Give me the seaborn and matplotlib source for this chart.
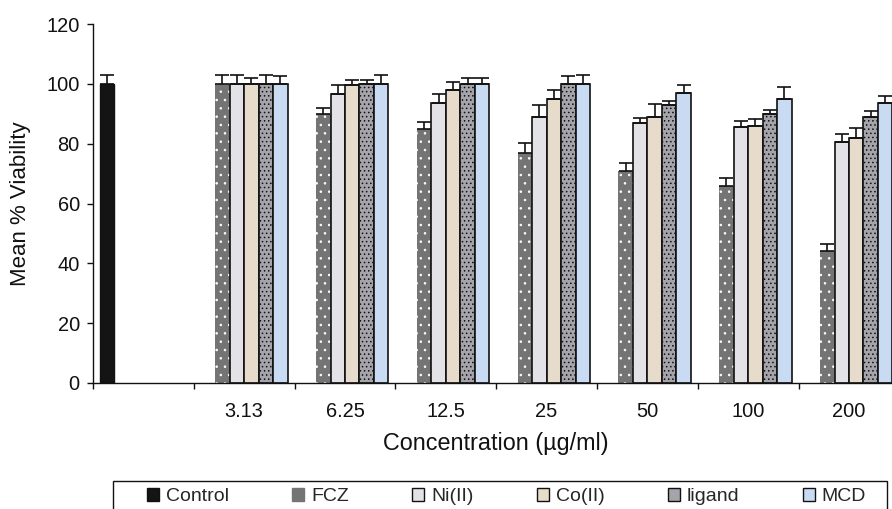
import numpy as np
import pandas as pd
import matplotlib
matplotlib.use("Agg")
import matplotlib.pyplot as plt
from matplotlib.patches import Rectangle, Patch
from matplotlib.ticker import FixedLocator
import seaborn as sns

# ---------------- data ----------------
categories = ["Control", "3.13", "6.25", "12.5", "25", "50", "100", "200"]
tick_labels = ["", "3.13", "6.25", "12.5", "25", "50", "100", "200"]
conc = ["3.13", "6.25", "12.5", "25", "50", "100", "200"]

series = ["Control", "FCZ", "Ni(II)", "Co(II)", "ligand", "MCD"]

control_val = [100]
control_err = [3]
fcz_val = [100, 90, 85, 77, 71, 66, 44]
fcz_err = [3, 2, 2.4, 3.3, 2.5, 2.6, 2.4]
ni_val = [100, 96.5, 93.5, 89, 87, 85.5, 80.5]
ni_err = [3, 3, 3, 3.9, 1.7, 2.2, 2.8]
co_val = [100, 99.5, 98, 95, 89, 86, 82]
co_err = [2, 1.7, 2.5, 3, 4.4, 2.3, 3.1]
ligand_val = [100, 100, 100, 100, 93, 90, 89]
ligand_err = [3, 1.3, 2, 2.5, 1.4, 1.3, 1.9]
mcd_val = [100, 100, 100, 100, 97, 95, 93.5]
mcd_err = [2.5, 3, 2, 3, 2.5, 3.9, 2.5]

rows = [("Control", "Control", control_val[0], control_err[0])]
for name, vals, errs in [("FCZ", fcz_val, fcz_err), ("Ni(II)", ni_val, ni_err),
                         ("Co(II)", co_val, co_err), ("ligand", ligand_val, ligand_err),
                         ("MCD", mcd_val, mcd_err)]:
    for c, v, e in zip(conc, vals, errs):
        rows.append((c, name, v, e))
df = pd.DataFrame(rows, columns=["conc", "series", "value", "err"])

# ---------------- style ----------------
sns.set_theme(style="white")
plt.rcParams["font.family"] = ["Liberation Sans", "DejaVu Sans"]
plt.rcParams["hatch.linewidth"] = 0.6

fill = {"Control": "#141414", "FCZ": "#747474", "Ni(II)": "#e3e3e7",
        "Co(II)": "#e7dccb", "ligand": "#a4a4aa", "MCD": "#c9dbf3"}
edge = {"Control": "#111111", "FCZ": "#ffffff", "Ni(II)": "#111111",
        "Co(II)": "#111111", "ligand": "#111111", "MCD": "#111111"}
lw = {"Control": 1.0, "FCZ": 0.0, "Ni(II)": 1.2, "Co(II)": 1.2, "ligand": 1.2, "MCD": 1.2}
hatch = {"Control": None, "FCZ": "..", "Ni(II)": None, "Co(II)": None,
         "ligand": "....", "MCD": None}

W, H = 892, 509
fig = plt.figure(figsize=(W / 100, H / 100), dpi=100)
ax = fig.add_axes([93 / W, 1 - 383 / H, 806.4 / W, 359 / H])

sns.barplot(data=df, x="conc", y="value", hue="series", order=categories,
            hue_order=series, palette=fill, width=0.863, errorbar=None,
            saturation=1, legend=False, ax=ax)

for level, cont in zip(series, ax.containers):
    sub = df[df["series"] == level]
    xs, ys = [], []
    for p in cont.patches:
        p.set_edgecolor(edge[level])
        p.set_linewidth(lw[level])
        if hatch[level]:
            p.set_hatch(hatch[level])
        xs.append(p.get_x() + p.get_width() / 2)
        ys.append(p.get_height())
    errs = sub["err"].to_numpy()
    ax.errorbar(xs, ys, yerr=[np.zeros_like(errs), errs], fmt="none",
                ecolor="#111111", elinewidth=1.2, capsize=5, capthick=1.2, zorder=3)

ax.set_ylim(0, 120)
ax.set_yticks([0, 20, 40, 60, 80, 100, 120])
ax.set_xlim(-0.5, 7.5)
ax.set_xticks(range(len(categories)))
ax.set_xticklabels(tick_labels)
ax.xaxis.set_minor_locator(FixedLocator(np.arange(-0.5, 8.0, 1.0)))
ax.tick_params(axis="x", which="major", length=0, pad=13.5, labelsize=14.4, colors="#111111")
ax.tick_params(axis="x", which="minor", length=4, width=1, bottom=True, direction="out", color="#111111")
ax.tick_params(axis="y", which="major", length=4.5, width=1, left=True, direction="out",
               pad=5, labelsize=14.4, colors="#111111")
for s in ["top", "right"]:
    ax.spines[s].set_visible(False)
for s in ["left", "bottom"]:
    ax.spines[s].set_color("#111111")
    ax.spines[s].set_linewidth(1.0)

ax.set_xlabel("Concentration (µg/ml)", fontsize=16.8, labelpad=8, color="#111111")
ax.set_ylabel("Mean % Viability", fontsize=16, labelpad=11, color="#111111")

# legend
handles = []
for level in series:
    handles.append(Patch(facecolor=fill[level],
                         edgecolor="#111111" if level != "FCZ" else fill[level],
                         linewidth=1.0, label=level))
leg = fig.legend(handles=handles, loc="upper left", bbox_to_anchor=(147 / W, 1 - 488 / H),
                 ncol=6, frameon=False, fontsize=14, handlelength=0.62, handleheight=0.62,
                 handletextpad=0.36, columnspacing=3.25, borderpad=0, borderaxespad=0)
fig.add_artist(Rectangle((113 / W, -0.05), 774 / W, 0.05 + 28 / H, transform=fig.transFigure,
                         fill=False, edgecolor="#111111", linewidth=1.0))

fig.savefig("out.png", dpi=100)
